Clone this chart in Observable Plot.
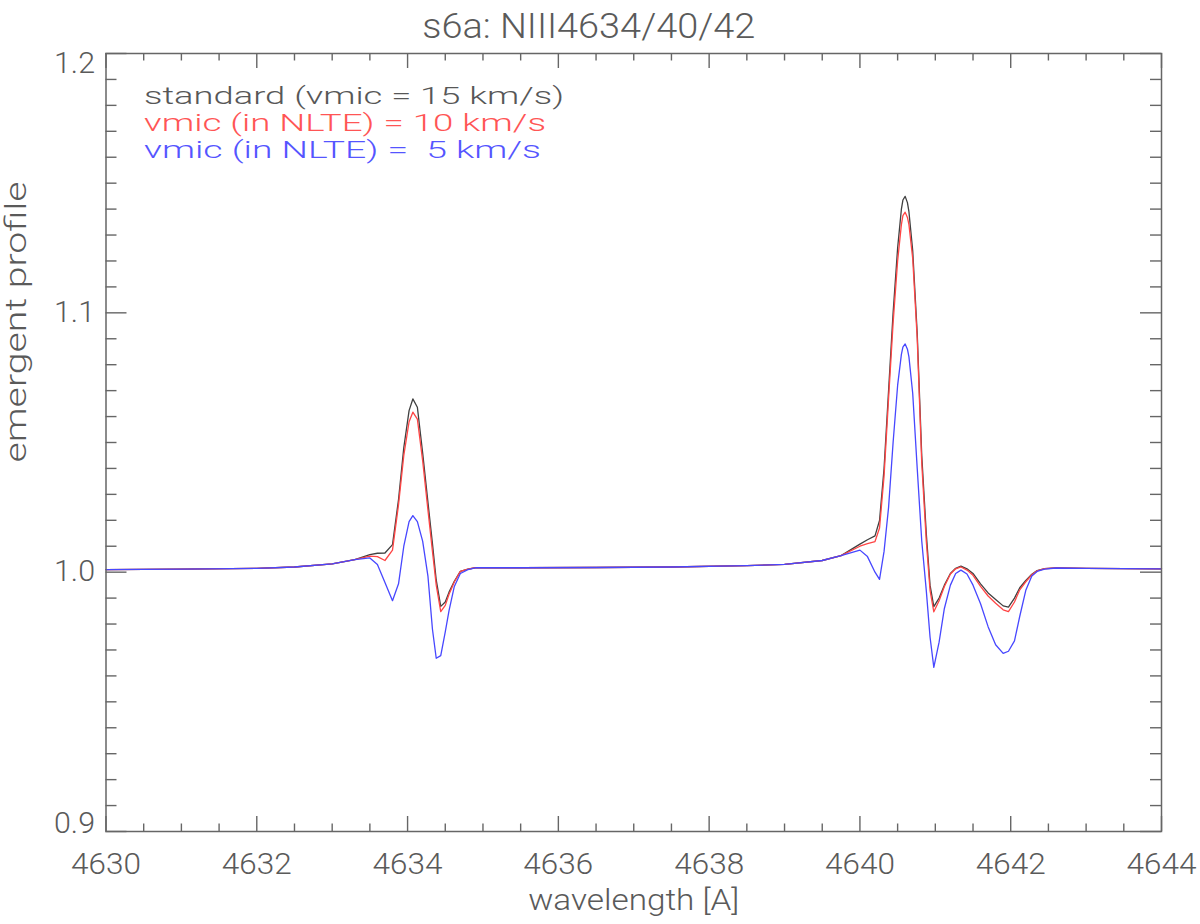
<!DOCTYPE html>
<html>
<head>
<meta charset="utf-8">
<script src="https://cdn.jsdelivr.net/npm/d3@7"></script>
<script src="https://cdn.jsdelivr.net/npm/@observablehq/plot@0.6"></script>
<style>
  html, body { margin: 0; padding: 0; background: #fff; }
  svg text { white-space: pre; }
</style>
</head>
<body>
<div id="chart"></div>
<script>
const title = "s6a: NIII4634/40/42";
const xLabel = "wavelength [A]";
const yLabel = "emergent profile";
const legendLabels = ["standard (vmic = 15 km/s)", "vmic (in NLTE) = 10 km/s", "vmic (in NLTE) =  5 km/s"];
const seriesColors = ["#404040", "#ff4545", "#4747ff"];
const legendColors = ["#575757", "#ff5555", "#5555ff"];

const xMajorTicks = [4630, 4632, 4634, 4636, 4638, 4640, 4642, 4644];
const yMajorTicks = [0.9, 1.0, 1.1, 1.2];

const wavelength = [4630.0, 4631.0, 4632.0, 4632.5, 4633.0, 4633.3, 4633.5, 4633.6, 4633.7, 4633.8, 4633.88, 4633.95, 4634.02, 4634.07, 4634.13, 4634.2, 4634.27, 4634.33, 4634.38, 4634.44, 4634.5, 4634.55, 4634.62, 4634.7, 4634.8, 4634.9, 4635.5, 4636.5, 4637.5, 4638.5, 4639.0, 4639.5, 4639.75, 4640.0, 4640.1, 4640.2, 4640.26, 4640.32, 4640.38, 4640.44, 4640.5, 4640.55, 4640.57, 4640.6, 4640.63, 4640.65, 4640.7, 4640.76, 4640.82, 4640.88, 4640.93, 4640.98, 4641.05, 4641.12, 4641.2, 4641.27, 4641.34, 4641.42, 4641.5, 4641.6, 4641.7, 4641.8, 4641.9, 4641.97, 4642.05, 4642.12, 4642.2, 4642.28, 4642.35, 4642.45, 4642.6, 4643.0, 4643.5, 4644.0];

const standard = [1.0010, 1.0012, 1.0015, 1.0020, 1.0032, 1.0048, 1.0068, 1.0073, 1.0074, 1.0106, 1.028, 1.048, 1.0623, 1.0668, 1.0636, 1.046, 1.027, 1.011, 0.997, 0.9868, 0.9885, 0.9923, 0.9965, 1.0003, 1.0012, 1.0017, 1.0017, 1.0018, 1.0020, 1.0025, 1.0030, 1.0045, 1.0064, 1.0108, 1.0125, 1.0140, 1.0199, 1.040, 1.070, 1.100, 1.125, 1.140, 1.1435, 1.1449, 1.1425, 1.139, 1.124, 1.092, 1.045, 1.015, 0.995, 0.9867, 0.9900, 0.9950, 0.9995, 1.0015, 1.0023, 1.0013, 0.9995, 0.9955, 0.9920, 0.9895, 0.9870, 0.9865, 0.9900, 0.9940, 0.9968, 0.9992, 1.0006, 1.0014, 1.0016, 1.0015, 1.0014, 1.0013];

const vmic10 = [1.0010, 1.0012, 1.0015, 1.0020, 1.0032, 1.0048, 1.0062, 1.0060, 1.0045, 1.0085, 1.026, 1.045, 1.058, 1.0617, 1.059, 1.043, 1.024, 1.008, 0.995, 0.9848, 0.9872, 0.9915, 0.9962, 1.0003, 1.0012, 1.0017, 1.0017, 1.0018, 1.0020, 1.0025, 1.0030, 1.0045, 1.0064, 1.0100, 1.0110, 1.0118, 1.017, 1.037, 1.067, 1.096, 1.120, 1.134, 1.1375, 1.1388, 1.1368, 1.134, 1.121, 1.090, 1.042, 1.012, 0.993, 0.9847, 0.9890, 0.9945, 0.9993, 1.0013, 1.0020, 1.0008, 0.9988, 0.9945, 0.9908, 0.9880, 0.9855, 0.9848, 0.9885, 0.9932, 0.9963, 0.9990, 1.0005, 1.0014, 1.0016, 1.0015, 1.0014, 1.0013];

const vmic5 = [1.0010, 1.0012, 1.0015, 1.0020, 1.0032, 1.0048, 1.0055, 1.0030, 0.9960, 0.9890, 0.9955, 1.010, 1.0195, 1.0218, 1.0195, 1.012, 0.9985, 0.978, 0.9668, 0.9678, 0.9770, 0.9852, 0.9945, 0.9995, 1.0010, 1.0017, 1.0017, 1.0018, 1.0020, 1.0025, 1.0030, 1.0045, 1.0064, 1.0085, 1.0060, 1.0000, 0.9972, 1.0080, 1.025, 1.050, 1.072, 1.084, 1.0868, 1.0880, 1.086, 1.083, 1.069, 1.040, 1.012, 0.993, 0.975, 0.9633, 0.9730, 0.9860, 0.9950, 0.9995, 1.0008, 0.9993, 0.9950, 0.9878, 0.9790, 0.9720, 0.9687, 0.9695, 0.9735, 0.9830, 0.9930, 0.9985, 1.0003, 1.0012, 1.0016, 1.0015, 1.0014, 1.0013];

const seriesValues = [standard, vmic10, vmic5];
const xMinorTicks = d3.range(4630, 4644.001, 0.5).filter(v => Math.abs(v / 2 - Math.round(v / 2)) > 1e-6);
const yMinorTicks = d3.range(90, 121).map(v => v / 100).filter(v => Math.abs(v * 10 - Math.round(v * 10)) > 1e-6);

const W = 1200, H = 924;
const mL = 105.5, mR = 39, mT = 53, mB = 93;
const fw = W - mL - mR, fh = H - mT - mB;
const textColor = "#5a5a5a";
const frameColor = "#666666";

const rows = seriesValues.map((vals, s) => wavelength.map((w, i) => ({w, v: vals[i], s})));
const tickStyle = {stroke: frameColor, strokeWidth: 1.4};
const yFmt = d3.format(".1f");
const yTop = d3.max(yMajorTicks), yBot = d3.min(yMajorTicks);

const chart = Plot.plot({
  width: W, height: H,
  marginLeft: mL, marginRight: mR, marginTop: mT, marginBottom: mB,
  x: {domain: [4630, 4644], axis: null},
  y: {domain: [0.9, 1.2], axis: null},
  style: {fontFamily: "Roboto, sans-serif", fontWeight: 300, color: textColor, background: "#fff"},
  marks: [
    // inward ticks on all four sides
    Plot.tickX(xMajorTicks, {x: d => d, insetTop: fh - 15, ...tickStyle}),
    Plot.tickX(xMajorTicks, {x: d => d, insetBottom: fh - 15, ...tickStyle}),
    Plot.tickX(xMinorTicks, {x: d => d, insetTop: fh - 7.5, ...tickStyle}),
    Plot.tickX(xMinorTicks, {x: d => d, insetBottom: fh - 7.5, ...tickStyle}),
    Plot.tickY(yMajorTicks, {y: d => d, insetRight: fw - 21, ...tickStyle}),
    Plot.tickY(yMajorTicks, {y: d => d, insetLeft: fw - 21, ...tickStyle}),
    Plot.tickY(yMinorTicks, {y: d => d, insetRight: fw - 11, ...tickStyle}),
    Plot.tickY(yMinorTicks, {y: d => d, insetLeft: fw - 11, ...tickStyle}),
    // x tick labels
    Plot.axisX({ticks: xMajorTicks, tickSize: 0, tickPadding: 22, tickFormat: d => String(d), label: null,
      fontSize: 29, fill: textColor}),
    // y tick labels (end labels nudged inside like the original)
    Plot.text(yMajorTicks, {filter: d => d !== yTop && d !== yBot, y: d => d, text: yFmt, frameAnchor: "left",
      textAnchor: "end", lineAnchor: "middle", dx: -11, fontSize: 29, fill: textColor}),
    Plot.text(yMajorTicks, {filter: d => d === yTop, y: d => d, text: yFmt, frameAnchor: "left",
      textAnchor: "end", lineAnchor: "middle", dx: -11, dy: 10, fontSize: 29, fill: textColor}),
    Plot.text(yMajorTicks, {filter: d => d === yBot, y: d => d, text: yFmt, frameAnchor: "left",
      textAnchor: "end", lineAnchor: "middle", dx: -11, dy: -8, fontSize: 29, fill: textColor}),
    // series lines
    ...rows.map((r, s) => Plot.line(r, {x: "w", y: "v", stroke: seriesColors[s], strokeWidth: 1.3})),
    Plot.frame({stroke: frameColor, strokeWidth: 1.5}),
    // legend
    ...legendLabels.map((t, s) => Plot.text([t], {text: d => d, frameAnchor: "top-left", textAnchor: "start",
      lineAnchor: "bottom", dx: 38, dy: 50.3 + 27.2 * s, fontSize: 23, fill: legendColors[s]})),
    // title
    Plot.text([title], {text: d => d, frameAnchor: "top", lineAnchor: "bottom", dx: -45, dy: -16, fontSize: 35, fill: textColor}),
    // axis titles
    Plot.text([xLabel], {text: d => d, frameAnchor: "bottom", lineAnchor: "bottom", dy: 78, fontSize: 29, fill: textColor}),
    Plot.text([yLabel], {text: d => d, frameAnchor: "left", lineAnchor: "bottom", rotate: -90, dx: -80.5, dy: 20,
      fontSize: 29, fill: textColor})
  ]
});

// stretch the glyphs horizontally to mimic the wide vector font of the original
const textWidths = new Map([
  [title, 333], [legendLabels[0], 420], [legendLabels[1], 402], [legendLabels[2], 397],
  [xLabel, 211], [yLabel, 281]
]);
chart.querySelectorAll("text").forEach(t => {
  const s = t.textContent;
  let w = textWidths.get(s);
  if (w == null && /^\d{4}$/.test(s)) w = 70;
  if (w == null && /^\d\.\d$/.test(s)) w = 41;
  if (w != null) {
    t.setAttribute("textLength", w);
    t.setAttribute("lengthAdjust", "spacingAndGlyphs");
  }
});
document.getElementById("chart").appendChild(chart);
</script>
</body>
</html>
